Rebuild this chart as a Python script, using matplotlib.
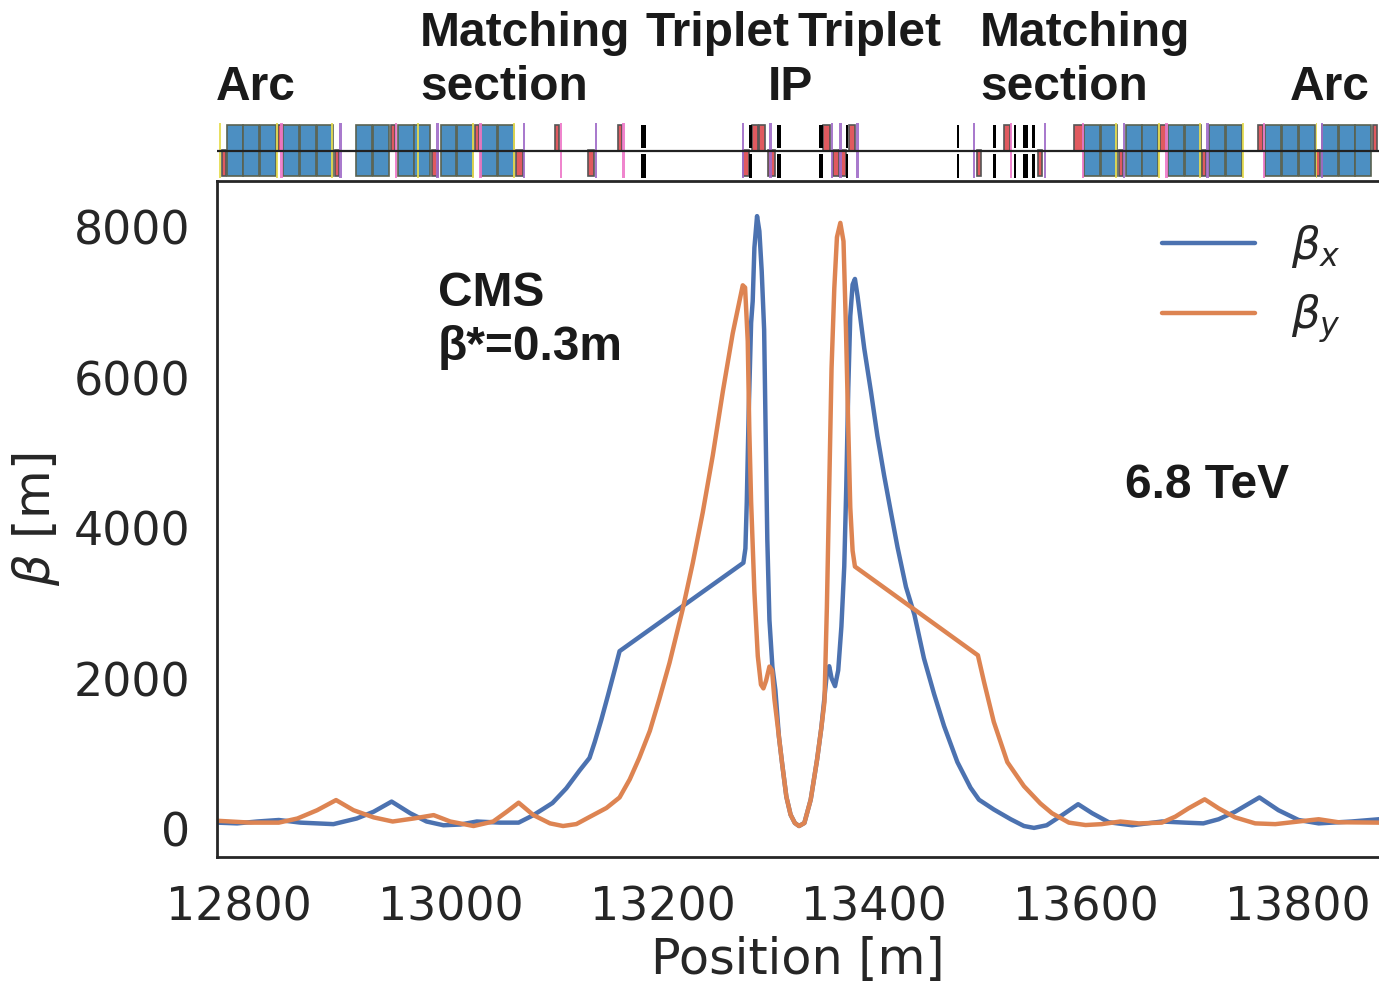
import matplotlib
matplotlib.use('Agg')
import matplotlib.pyplot as plt
from matplotlib.patches import Rectangle
import seaborn as sns

sns.set_style('white')
plt.rcParams['font.family'] = ['DejaVu Sans']
plt.rcParams['mathtext.fontset'] = 'dejavusans'

W, H = 1379, 983

#Optics functions
s_x = [12779, 12798, 12817, 12837.4, 12858, 12889, 12911, 12927, 12944, 12961.6, 12977, 12993, 13009, 13024.5, 13046.5,
       13064, 13078, 13096, 13109, 13121.7, 13131, 13136, 13142, 13148.4, 13154.7, 13159.4, 13276.4, 13278.3, 13279.6,
       13281.4, 13283.7, 13285.2, 13286.8, 13289.3, 13291.5, 13293.7, 13296, 13297.4, 13299, 13301, 13303.8, 13306.6,
       13310, 13313, 13317, 13321, 13325, 13329, 13334, 13340, 13346, 13350, 13353, 13355.5, 13357.5, 13359.7, 13363,
       13366, 13369, 13371.7, 13373.6, 13375.5, 13377.4, 13379.6, 13381.8, 13384.3, 13390.6, 13397, 13403, 13409.4,
       13415.7, 13422, 13430, 13438, 13447, 13456.6, 13466, 13478.6, 13491, 13499, 13513, 13529, 13541.5, 13551, 13563,
       13577.6, 13592.7, 13606, 13621.7, 13643.7, 13672, 13694, 13711, 13725.5, 13741, 13764, 13782, 13801, 13820,
       13851, 13877]
beta_x = [85, 75, 100, 120, 85, 65, 140, 230, 365, 210, 100, 50, 60, 100, 85,
          85, 185, 346, 540, 780, 945, 1160, 1445, 1775, 2110, 2365, 3540, 3730, 4350,
          5540, 6730, 7020, 7730, 8150, 7950, 7420, 6640, 5310, 3850, 2780, 2160, 1850,
          1225, 870, 430, 190, 80, 40, 80, 390, 920, 1340, 1750, 2100, 2165, 2005, 1900,
          2110, 2690, 3490, 4540, 5860, 6820, 7240, 7315, 7085, 6390, 5810, 5230, 4700,
          4220, 3750, 3220, 2850, 2270, 1795, 1370, 890, 550, 390, 260, 130, 40, 15, 50,
          185, 330, 210, 90, 50, 100, 85, 75, 130, 230, 420, 250, 120, 75,
          100, 130]

s_y = [12779, 12810.7, 12837.4, 12855, 12873.6, 12891.5, 12908, 12927, 12945, 12964.8, 12983.7, 12999.4, 13021.4, 13040,
       13052.8, 13064, 13078, 13093.7, 13106, 13118.6, 13131, 13147, 13159.4, 13169, 13178, 13188, 13197, 13206.6, 13219,
       13228.6, 13238, 13247.5, 13257, 13266.3, 13275.8, 13278, 13280.5, 13282, 13283.7, 13286.8, 13290, 13293, 13295.3,
       13297.8, 13301, 13303.5, 13305.7, 13310, 13313, 13317, 13321, 13325, 13329, 13334, 13340, 13346, 13350, 13353,
       13355.3, 13357.5, 13359.7, 13362.3, 13364.8, 13368, 13371, 13373.3, 13375.5, 13377.4, 13379.6, 13381.8, 13498,
       13503.8, 13513, 13525.8, 13541.5, 13557, 13568, 13584, 13599.7, 13615, 13632.7, 13650, 13671.8, 13684.6, 13697,
       13712.3, 13725.5, 13741, 13760, 13779, 13801, 13820, 13838.7, 13877]
beta_y = [110, 85, 85, 140, 250, 385, 250, 155, 100, 140, 185, 100, 40, 100,
          230, 350, 185, 75, 40, 66, 160, 280, 420, 660, 945, 1305, 1730, 2210, 2920,
          3540, 4210, 4970, 5820, 6590, 7230, 7200, 6490, 5300, 4350, 3155, 2300, 1920, 1870,
          1970, 2160, 2110, 1730, 1225, 870, 430, 190, 80, 40, 80, 390, 920, 1340, 1690,
          2955, 4540, 6125, 7190, 7870, 8060, 7815, 6660, 5340, 4275, 3700, 3490, 2310,
          1955, 1425, 890, 570, 340, 210, 85, 53, 65, 100, 75, 85, 165, 275,
          395, 275, 155, 75, 65, 100, 130, 90, 85]

#Lattice elements, start positions in m
dipoles = [12788.3, 12804, 12819.8, 12841.8, 12857.5, 12873.2, 12910.3, 12926.1, 12949.7, 12965, 12990.2, 13006,
           13028.9, 13044.3, 13598.2, 13614.2, 13637.5, 13653.2, 13677.7, 13693.5, 13716.7, 13732.5, 13769.6,
           13785.3, 13801, 13823, 13838.8, 13854.5]
quads_up = [12837, 12943.5, 13022.6, 13098.5, 13158, 13285, 13291, 13352, 13376, 13523, 13589, 13670, 13763, 13871]
quads_up_len = [4, 4, 4, 4, 4, 5.6, 6, 6, 6, 5, 8, 6, 4.5, 4]
quads_down = [12783.6, 12890.5, 12981.7, 13062, 13130, 13276, 13300, 13361, 13367, 13497, 13555, 13631, 13710, 13817]
quads_down_len = [4, 3.4, 6, 6, 5, 6, 6, 6.5, 6.5, 4, 3.5, 3.8, 4, 4]
sext_purple = [12894.7, 12986, 13068, 13136, 13275, 13300.8, 13359, 13367, 13383, 13493, 13560, 13635, 13714, 13822]
sext_pink = [12839, 12947, 13027, 13103, 13162, 13528, 13596, 13675, 13767]
sext_yellow = [12781, 12835, 12887, 12968, 13020, 13059, 13628, 13668, 13707, 13748, 13817]
drift_black = [13180, 13282, 13308, 13348, 13373, 13478, 13512, 13532, 13541, 13549]
drift_black_len = [4.4, 3, 3.6, 3.6, 2.5, 2.6, 3, 1.6, 4.6, 3.4]

fig = plt.figure(figsize=(W / 100, H / 100), dpi=100)
ax = fig.add_axes([217 / W, 1 - 857 / H, (W - 217) / W, (857 - 181) / H])
top = fig.add_axes([217 / W, 1 - 179 / H, (W - 217) / W, 57 / H], sharex=ax)

#Main plot
ax.plot(s_x, beta_x, color='#4C72B0', linewidth=3.2, label=r'$\beta_x$')
ax.plot(s_y, beta_y, color='#DD8452', linewidth=3.2, label=r'$\beta_y$')
ax.set_xlim(12779, 13877)
ax.set_ylim(-372, 8617)
ax.set_xticks([12800, 13000, 13200, 13400, 13600, 13800])
ax.set_yticks([0, 2000, 4000, 6000, 8000])
ax.tick_params(axis='x', labelsize=33, pad=17, colors='.15')
ax.tick_params(axis='y', labelsize=33, pad=16, colors='.15')
for side in ['top', 'left', 'bottom']:
    ax.spines[side].set_color('.15')
    ax.spines[side].set_linewidth(2)
ax.spines['right'].set_visible(False)
ax.set_xlabel('Position [m]', fontsize=35.5, color='.15', labelpad=4)
ax.set_ylabel(r'$\beta$ [m]', fontsize=36, color='.15', labelpad=8)
ax.legend(loc='upper right', bbox_to_anchor=(1.002, 0.998), frameon=False, fontsize=32.5, handlelength=2.05,
          handletextpad=0.8, labelspacing=0.5)


#Lattice strip
def box(x, w, y0, y1, color, edge='none', alpha=1.0, zorder=2):
    top.add_patch(Rectangle((x, y0), w, y1 - y0, facecolor=color, edgecolor=edge, linewidth=1.2, alpha=alpha,
                            zorder=zorder))


for x in dipoles:
    box(x, 15.1, -0.9, 0.9, '#4C8FC2', edge='#5a6250', zorder=3)
for x, w in zip(quads_up, quads_up_len):
    box(x, w, 0, 0.9, '#E05A5F', edge='#555555')
for x, w in zip(quads_down, quads_down_len):
    box(x, w, -0.9, 0, '#E05A5F', edge='#555555')
for x in sext_purple:
    box(x, 2.4, -0.95, 0.95, '#A06CC8', alpha=0.9, zorder=4)
for x in sext_pink:
    box(x, 2.4, -0.95, 0.95, '#EE78C8', alpha=0.9, zorder=4)
for x in sext_yellow:
    box(x, 1.6, -0.95, 0.95, '#E6DC50', alpha=0.9, zorder=4)
for x, w in zip(drift_black, drift_black_len):
    box(x, w, 0.1, 0.9, 'black', zorder=5)
    box(x, w, -0.95, -0.12, 'black', zorder=5)
top.axhline(0, color='#222222', linewidth=1.6, zorder=6)
top.set_ylim(-1, 1)
top.axis('off')

#Labels
bold = dict(fontsize=34.5, fontweight='bold', family='Liberation Sans', color='#1a1a1a', va='center', ha='left')
for text, px, py in [('Matching', 420, 34), ('section', 420, 87), ('Triplet', 646, 34), ('Triplet', 798, 34),
                     ('IP', 768, 87), ('Matching', 980, 34), ('section', 980, 87), ('Arc', 216, 87),
                     ('Arc', 1290, 87), ('CMS', 438, 293), ('β*=0.3m', 438, 347), ('6.8 TeV', 1125, 486)]:
    fig.text(px / W, 1 - py / H, text, **bold)

fig.savefig('out.png', dpi=100)
